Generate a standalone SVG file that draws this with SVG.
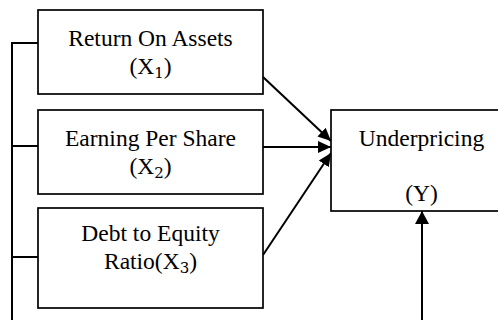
<svg xmlns="http://www.w3.org/2000/svg" width="498" height="320" viewBox="0 0 498 320">
<style>
.box{fill:#fff;stroke:#000;stroke-width:1.7}
.t{font-family:"Liberation Serif","Times New Roman",serif;font-size:23.5px;fill:#000;text-anchor:middle}
.sub{font-family:"DejaVu Serif","Liberation Serif",serif;font-size:15px}
.c{fill:none;stroke:#000;stroke-width:2}
</style>
<defs>
<marker id="ah" markerUnits="userSpaceOnUse" markerWidth="16" markerHeight="16" refX="13" refY="8" orient="auto">
<path d="M0,2 L13,8 L0,14 Z" fill="#000"/>
</marker>
<marker id="ah2" markerUnits="userSpaceOnUse" markerWidth="16" markerHeight="16" refX="13" refY="8" orient="auto">
<path d="M0,1 L13,8 L0,15 Z" fill="#000"/>
</marker>
</defs>
<g id="connectors">
<path class="c" d="M12,42 V320 M12,43 H38 M12,146 H38 M12,257 H38"/>
<line class="c" x1="263" y1="77" x2="331" y2="141" marker-end="url(#ah)"/>
<line class="c" x1="263" y1="147" x2="331" y2="147" marker-end="url(#ah)"/>
<line class="c" x1="263" y1="255" x2="331" y2="153" marker-end="url(#ah)"/>
<line class="c" x1="422" y1="320" x2="422" y2="211" marker-end="url(#ah2)"/>
</g>
<g id="roa">
<rect class="box" x="38" y="10" width="225" height="84"/>
<text class="t" x="150.5" y="45.5">Return On Assets</text>
<text class="t" x="150.5" y="74">(X<tspan class="sub" dy="4">1</tspan><tspan dy="-4">)</tspan></text>
</g>
<g id="eps">
<rect class="box" x="38" y="110" width="225" height="84"/>
<text class="t" x="150.5" y="145.5">Earning Per Share</text>
<text class="t" x="150.5" y="174">(X<tspan class="sub" dy="4">2</tspan><tspan dy="-4">)</tspan></text>
</g>
<g id="der">
<rect class="box" x="38" y="208" width="225" height="100"/>
<text class="t" x="150.5" y="241">Debt to Equity</text>
<text class="t" x="150.5" y="269">Ratio(X<tspan class="sub" dy="4">3</tspan><tspan dy="-4">)</tspan></text>
</g>
<g id="underpricing">
<rect class="box" x="331" y="110" width="182" height="101"/>
<text class="t" x="421.5" y="146">Underpricing</text>
<text class="t" x="421.5" y="201">(Y)</text>
</g>
</svg>
